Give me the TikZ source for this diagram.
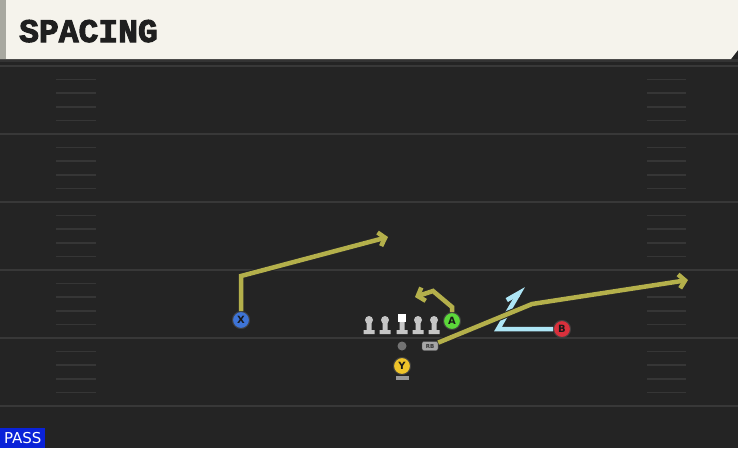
\documentclass[tikz,border=0pt]{standalone}
\usepackage{fontspec}
\setmainfont{DejaVu Sans}
\newfontfamily\titlefont[BoldFeatures={FakeBold=3}]{Liberation Mono}
\usetikzlibrary{shapes}
\usetikzlibrary{positioning}
\usetikzlibrary{arrows.meta}
\definecolor{fieldc}{HTML}{242424}
\definecolor{yardc}{HTML}{383838}
\definecolor{hashc}{HTML}{363636}
\definecolor{headc}{HTML}{F5F3EC}
\definecolor{stripc}{HTML}{A8A8A0}
\definecolor{passc}{HTML}{0A22D8}
\definecolor{routec}{HTML}{B4B04B}
\definecolor{routebc}{HTML}{AEE6F6}
\definecolor{xblue}{HTML}{3E74D6}
\definecolor{agreen}{HTML}{5CD83A}
\definecolor{bred}{HTML}{D9303C}
\definecolor{yyellow}{HTML}{EFC42A}
\definecolor{linec}{HTML}{C6C6C6}
\tikzset{
    yardline/.style = {draw=yardc, line width=2pt},
    hashmark/.style = {draw=hashc, line width=1.5pt},
    player/.style = {circle, draw=black!75, line width=1pt, minimum size=17pt, inner sep=0pt, text=black!90, font=\bfseries\fontsize{10}{10}\selectfont},
    playerb/.style = {player, fill=xblue},
    playerg/.style = {player, fill=agreen},
    playerr/.style = {player, fill=bred},
    playery/.style = {player, fill=yyellow},
    lineman/.style = {circle, fill=linec, minimum size=8pt, inner sep=0pt},
    route/.style = {line width=4.5pt, draw=routec, line join=miter, preaction={draw=black!85, line width=6.5pt}, -{Straight Barb[length=6pt, width=14pt]}}, % olive
    routeb/.style = {line width=4.5pt, draw=routebc, line join=miter, preaction={draw=black!85, line width=6.5pt}, -{Straight Barb[harpoon, length=12pt, width=14pt]}} % light blue
}
\begin{document}
\begin{tikzpicture}[x=1pt, y=-1pt]
  \useasboundingbox (0,0) rectangle (738,448);
  \fill[fieldc] (0,0) rectangle (738,448);

  % field
  \foreach \y in {66,134,202,270,338,406} {
    \draw[yardline] (0,\y) -- (738,\y);
  }
  \foreach \y in {66,134,202,270,338} {
    \foreach \k in {1,2,3,4} {
      \draw[hashmark] (56,\y+13.6*\k) -- (96,\y+13.6*\k);
      \draw[hashmark] (647,\y+13.6*\k) -- (686,\y+13.6*\k);
    }
  }

  % header
  \fill[black!80] (0,59) rectangle (738,62);
  \fill[headc] (0,0) -- (738,0) -- (738,50) -- (731,59) -- (0,59) -- cycle;
  \fill[stripc] (0,0) rectangle (6,59);
  \node[anchor=base west, inner sep=0pt, text=black!88, font=\titlefont\bfseries\fontsize{33}{33}\selectfont] (title) at (19,42) {SPACING};

  % line
  \node[lineman] (lt) at (369,320) {};
  \node[lineman] (lg) at (385,320) {};
  \node[lineman] (rg) at (418,320) {};
  \node[lineman] (rt) at (434,320) {};
  \fill[linec] (366.5,320) rectangle (371.5,331) (363.5,330) rectangle (374.5,334);
  \fill[linec] (382.5,320) rectangle (387.5,331) (379.5,330) rectangle (390.5,334);
  \fill[linec] (415.5,320) rectangle (420.5,331) (412.5,330) rectangle (423.5,334);
  \fill[linec] (431.5,320) rectangle (436.5,331) (428.5,330) rectangle (439.5,334);
  \node[rectangle, fill=white, minimum size=8pt, inner sep=0pt] (c) at (402,318) {};
  \fill[linec] (399.5,322) rectangle (404.5,331) (396.5,330) rectangle (407.5,334);

  % backs
  \node[circle, fill=black!55, minimum size=9pt, inner sep=0pt] (qb) at (402,346) {};
  \node[rectangle, rounded corners=2pt, draw=black!70, fill=black!35, minimum width=16pt, minimum height=9pt, inner sep=0pt, text=black!80, font=\bfseries\fontsize{5.5}{5.5}\selectfont] (rb) at (430,346) {RB};
  \fill[black!40] (395.5,376) rectangle (408.5,380);
  \node[playery] (y) at (402,366) {Y};
  \node[playerb] (x) at (241,320) {X};
  \node[playerg] (a) at (452,321) {A};
  \node[playerr] (b) at (562,329) {B};

  % routes
  \coordinate (bbreak) at (498,329);
  \coordinate (bend) at (523,286);
  \draw[routeb] (b) -- (bbreak) -- (bend);
  \coordinate (xbreak) at (241,276);
  \coordinate (xend) at (388,237);
  \draw[route] (x) -- (xbreak) -- (xend);
  \coordinate (abreak) at (452,307);
  \coordinate (atop) at (433,291);
  \coordinate (aend) at (415,297);
  \draw[route] (a) -- (abreak) -- (atop) -- (aend);
  \coordinate (rbbreak) at (532,304);
  \coordinate (rbend) at (688,280);
  \draw[route] (rb) -- (rbbreak) -- (rbend);

  \node[anchor=south west, fill=passc, text=white, minimum width=45pt, minimum height=20pt, inner sep=0pt, font=\fontsize{15}{15}\selectfont] (pass) at (0,448) {PASS};
\end{tikzpicture}
\end{document}
